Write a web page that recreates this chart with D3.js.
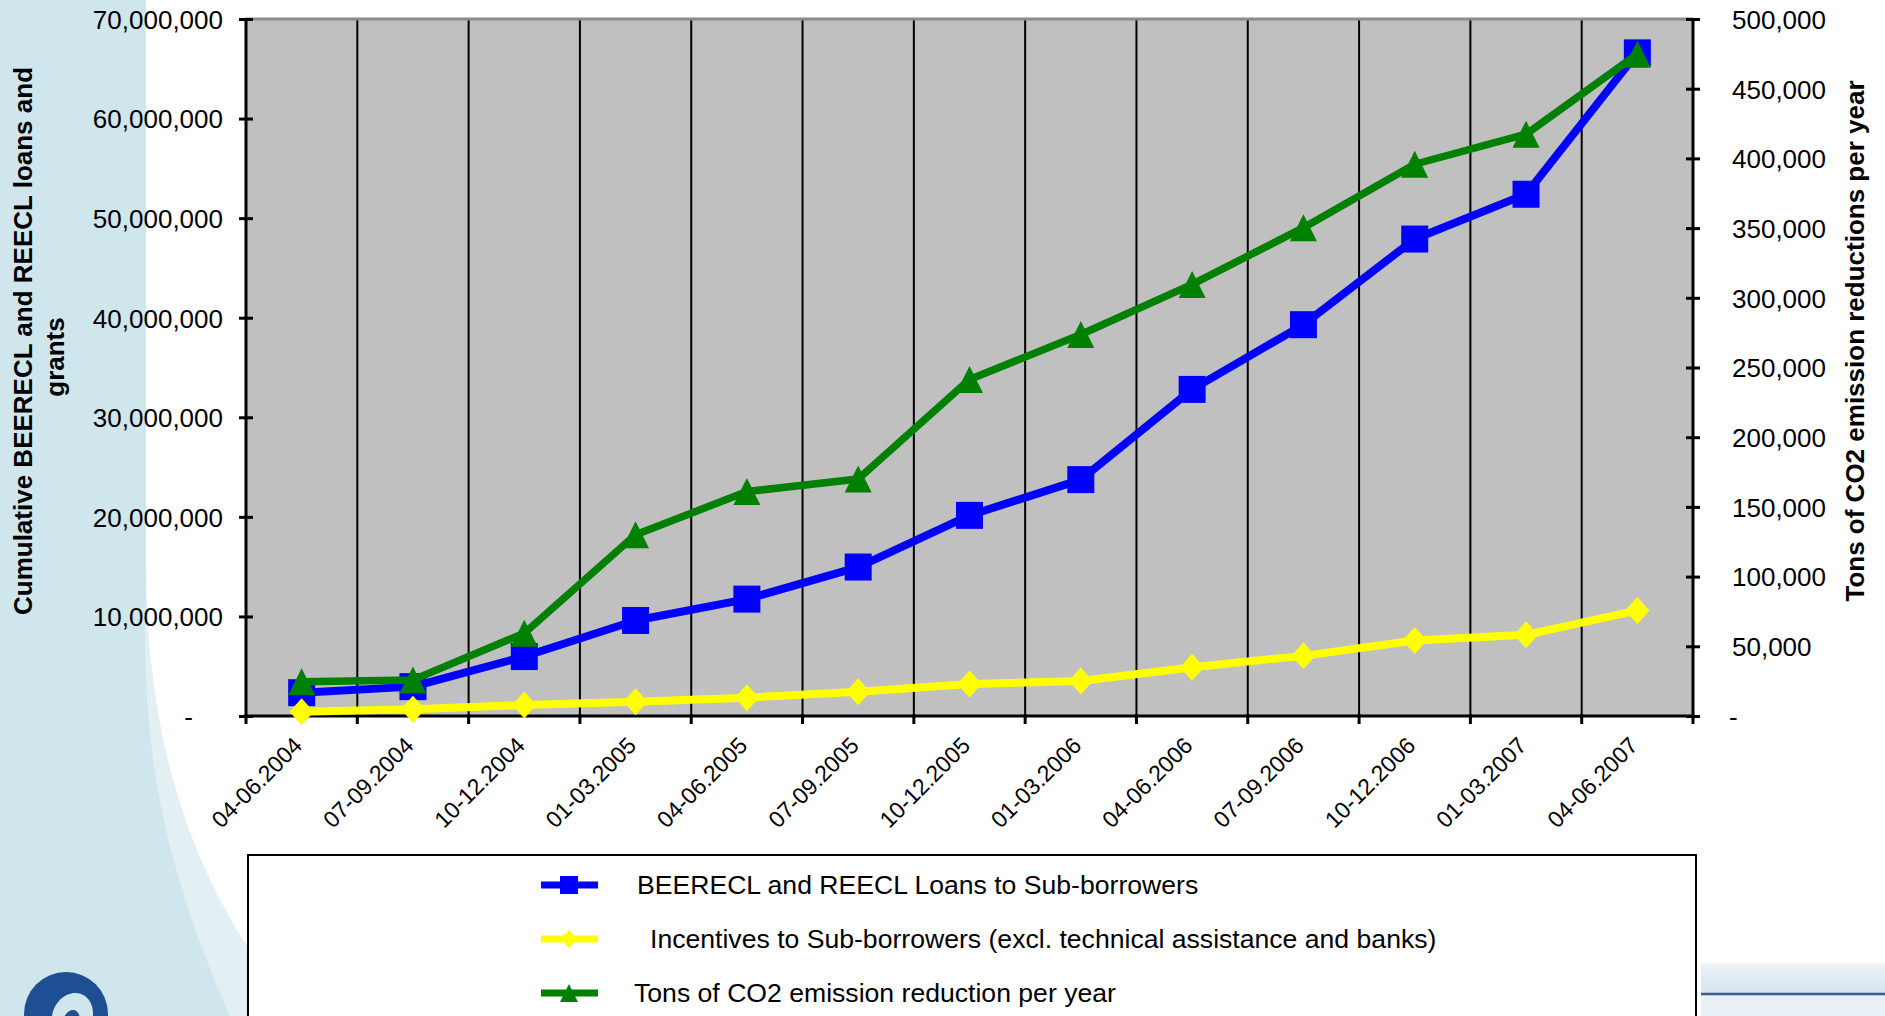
<!DOCTYPE html>
<html>
<head>
<meta charset="utf-8">
<script src="https://cdn.jsdelivr.net/npm/d3@7"></script>
<style>
  body { margin: 0; background: #fff; }
  svg { display: block; font-family: "Liberation Sans", Arial, sans-serif; }
</style>
</head>
<body>
<div id="chart"></div>
<script>
// data
var categories = ["04-06.2004", "07-09.2004", "10-12.2004", "01-03.2005", "04-06.2005", "07-09.2005",
    "10-12.2005", "01-03.2006", "04-06.2006", "07-09.2006", "10-12.2006", "01-03.2007", "04-06.2007"];
var loans = [2340000, 2950000, 5970000, 9590000, 11740000, 14960000, 20150000,
    23740000, 32800000, 39300000, 47900000, 52400000, 66600000];
var incentives = [430000, 670000, 1100000, 1440000, 1840000, 2440000, 3220000,
    3520000, 4900000, 6040000, 7580000, 8150000, 10600000];
var tonsCO2 = [24600, 25900, 59400, 130000, 161000, 170000, 241400,
    273700, 309600, 350300, 395800, 417400, 474800];
var leftTicks = [0, 10000000, 20000000, 30000000, 40000000, 50000000, 60000000, 70000000];
var rightTicks = [0, 50000, 100000, 150000, 200000, 250000, 300000, 350000, 400000, 450000, 500000];
var seriesNames = ["BEERECL and REECL Loans to Sub-borrowers",
    "Incentives to Sub-borrowers (excl. technical assistance and banks)",
    "Tons of CO2 emission reduction per year"];

var width = 1885, height = 1016;
// plot box (note: "top" is reserved on window, so prefixed names)
var plotLeft = 246, plotRight = 1693, plotTop = 19, plotBottom = 716;

var svg = d3.select("#chart").append("svg")
    .attr("width", width)
    .attr("height", height);

// slide background
var defs = svg.append("defs");
var grad = defs.append("linearGradient").attr("id", "band").attr("x1", 0).attr("y1", 0).attr("x2", 0).attr("y2", 1);
grad.append("stop").attr("offset", "0%").attr("stop-color", "#eef4f8");
grad.append("stop").attr("offset", "100%").attr("stop-color", "#d3e4ed");

svg.append("path")
    .attr("d", "M0,0 H146 V560 C146,760 200,900 300,1016 H0 Z")
    .attr("fill", "#e2eff3");
svg.append("path")
    .attr("d", "M0,0 H146 V600 C140,760 170,880 230,1016 H0 Z")
    .attr("fill", "#cfe6ec");
svg.append("rect").attr("x", 1701).attr("y", 963).attr("width", 184).attr("height", 30).attr("fill", "url(#band)");
svg.append("rect").attr("x", 1701).attr("y", 995).attr("width", 184).attr("height", 21).attr("fill", "#eaf1f6");
svg.append("line").attr("x1", 1701).attr("x2", 1885).attr("y1", 994).attr("y2", 994)
    .attr("stroke", "#3c5a99").attr("stroke-width", 2.5);

// logo
var logo = svg.append("g").attr("transform", "translate(66,1014)");
logo.append("ellipse").attr("rx", 42).attr("ry", 42).attr("fill", "#1f4f93");
logo.append("path")
    .attr("d", "M-14,2 C-10,-22 18,-30 26,-8 C30,8 22,30 14,40 L-18,40 C-22,26 -18,14 -14,2 Z")
    .attr("fill", "#cfe6ec");
logo.append("path")
    .attr("d", "M-4,8 C0,-6 12,-8 14,4 C16,18 10,32 6,40 L-8,40 C-10,28 -8,18 -4,8 Z")
    .attr("fill", "#1f4f93");

// scales
var x = d3.scaleBand().domain(categories).range([plotLeft, plotRight]).padding(0);
var y = d3.scaleLinear().domain([0, 70000000]).range([plotBottom, plotTop]);
var y2 = d3.scaleLinear().domain([0, 500000]).range([plotBottom, plotTop]);
var bw = x.bandwidth();
var cx = function (c) { return x(c) + bw / 2; };

// plot area
svg.append("rect")
    .attr("x", plotLeft).attr("y", plotTop)
    .attr("width", plotRight - plotLeft).attr("height", plotBottom - plotTop)
    .attr("fill", "#c0c0c0");

var bounds = categories.map(function (c) { return x(c); }).concat([plotRight]);
svg.append("g").selectAll("line")
    .data(bounds.slice(1, -1))
    .enter().append("line")
    .attr("x1", function (d) { return d; }).attr("x2", function (d) { return d; })
    .attr("y1", plotTop).attr("y2", plotBottom)
    .attr("stroke", "#000").attr("stroke-width", 2);

svg.append("line")
    .attr("x1", plotLeft).attr("x2", plotRight).attr("y1", plotTop).attr("y2", plotTop)
    .attr("stroke", "#8c8c8c").attr("stroke-width", 3);

var fmt = d3.format(",");

// left axis
var axisL = svg.append("g")
    .attr("transform", "translate(" + plotLeft + ",0)")
    .call(d3.axisLeft(y).tickValues(leftTicks).tickSize(7).tickPadding(16)
        .tickFormat(function (d) { return d === 0 ? "-" : fmt(d); }));
axisL.selectAll(".tick line").attr("x1", -7).attr("x2", 7).attr("stroke-width", 3);
axisL.select(".domain").attr("d", "M0," + plotTop + "V" + plotBottom).attr("stroke-width", 3);
axisL.selectAll("text").attr("font-size", 26).attr("fill", "#000").attr("font-family", null).attr("dy", "0.36em");
axisL.selectAll("text").filter(function (d) { return d === 0; }).attr("x", -53);

// right axis
var axisR = svg.append("g")
    .attr("transform", "translate(" + plotRight + ",0)")
    .call(d3.axisRight(y2).tickValues(rightTicks).tickSize(7).tickPadding(32)
        .tickFormat(function (d) { return d === 0 ? "-" : fmt(d); }));
axisR.selectAll(".tick line").attr("x1", -7).attr("x2", 7).attr("stroke-width", 3);
axisR.select(".domain").attr("d", "M0," + plotTop + "V" + plotBottom).attr("stroke-width", 3);
axisR.selectAll("text").attr("font-size", 26).attr("fill", "#000").attr("font-family", null).attr("dy", "0.36em");
axisR.selectAll("text").filter(function (d) { return d === 0; }).attr("x", 36);

// bottom axis
var axisB = svg.append("g")
    .attr("transform", "translate(0," + plotBottom + ")")
    .call(d3.axisBottom(x).tickSize(0));
axisB.select(".domain").attr("d", "M" + plotLeft + ",0H" + plotRight).attr("stroke-width", 3);
axisB.selectAll("text")
    .attr("font-size", 23).attr("fill", "#000").attr("font-family", null)
    .attr("x", 0).attr("y", 0).attr("dy", null)
    .attr("transform", "translate(2,31) rotate(-45)")
    .style("text-anchor", "end");
axisB.append("g").selectAll("line")
    .data(bounds)
    .enter().append("line")
    .attr("x1", function (d) { return d; }).attr("x2", function (d) { return d; })
    .attr("y1", -2).attr("y2", 8)
    .attr("stroke", "#000").attr("stroke-width", 3);

// marker shapes
var square = function (s) { return "M" + (-s / 2) + "," + (-s / 2) + "h" + s + "v" + s + "h" + (-s) + "Z"; };
var diamond = function (s) { return "M0," + (-s / 2) + "L" + (s * 0.45) + ",0L0," + (s / 2) + "L" + (-s * 0.45) + ",0Z"; };
var triangle = function (s) { return "M0," + (-s / 2) + "L" + (s / 2) + "," + (s / 2) + "L" + (-s / 2) + "," + (s / 2) + "Z"; };

var series = [
    {name: seriesNames[0], values: loans, scale: y, color: "#0000ff", marker: square, width: 8},
    {name: seriesNames[1], values: incentives, scale: y, color: "#ffff00", marker: diamond, width: 8},
    {name: seriesNames[2], values: tonsCO2, scale: y2, color: "#008000", marker: triangle, width: 7.5}
];

series.forEach(function (s) {
    var pts = s.values.map(function (v, i) { return [cx(categories[i]), s.scale(v)]; });
    var g = svg.append("g");
    g.append("path")
        .attr("d", d3.line()(pts))
        .attr("fill", "none")
        .attr("stroke", s.color)
        .attr("stroke-width", s.width)
        .attr("stroke-linejoin", "round");
    g.selectAll(".m")
        .data(pts)
        .enter().append("path")
        .attr("transform", function (p) { return "translate(" + p[0] + "," + p[1] + ")"; })
        .attr("d", s.marker(27))
        .attr("fill", s.color);
});

// axis titles
svg.append("text")
    .attr("transform", "translate(32,341) rotate(-90)")
    .attr("text-anchor", "middle")
    .attr("font-size", 26).attr("font-weight", "bold")
    .text("Cumulative BEERECL and REECL loans and");
svg.append("text")
    .attr("transform", "translate(64,357) rotate(-90)")
    .attr("text-anchor", "middle")
    .attr("font-size", 26).attr("font-weight", "bold")
    .text("grants");
svg.append("text")
    .attr("transform", "translate(1864,341) rotate(-90)")
    .attr("text-anchor", "middle")
    .attr("font-size", 26).attr("font-weight", "bold")
    .text("Tons of CO2 emission reductions per year");

// legend
var legend = svg.append("g");
legend.append("rect")
    .attr("x", 248).attr("y", 855).attr("width", 1448).attr("height", 200)
    .attr("fill", "#fff").attr("stroke", "#000").attr("stroke-width", 2);
var rowY = [885, 939, 993];
var textX = [637, 650, 634];
series.forEach(function (s, i) {
    var row = legend.append("g").attr("transform", "translate(0," + rowY[i] + ")");
    row.append("line").attr("x1", 541).attr("x2", 598).attr("y1", 0).attr("y2", 0)
        .attr("stroke", s.color).attr("stroke-width", 7);
    row.append("path").attr("transform", "translate(569,0)").attr("d", s.marker(18)).attr("fill", s.color);
    row.append("text").attr("x", textX[i]).attr("y", 0).attr("dy", "0.35em")
        .attr("font-size", 26.6).text(s.name);
});
</script>
</body>
</html>
